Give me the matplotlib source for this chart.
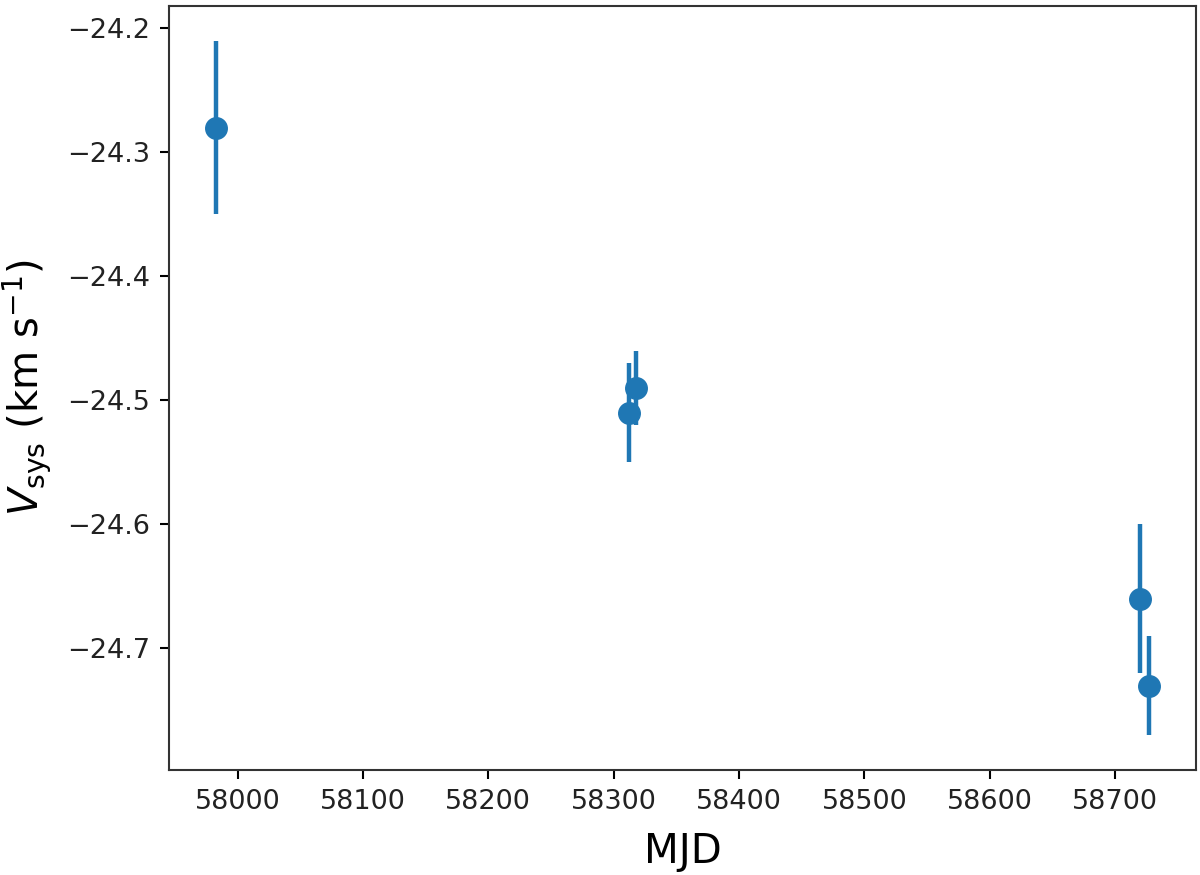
import matplotlib
matplotlib.use("Agg")
import matplotlib.pyplot as plt

# Dados
mjd = [57982.4, 58312.2, 58318.0, 58720.2, 58727.4]
vsys = [-24.28, -24.51, -24.49, -24.66, -24.73]
vsys_err = [0.07, 0.04, 0.03, 0.06, 0.04]

fig = plt.figure(figsize=(12, 8.75), dpi=100)
ax = fig.add_axes([0.1408, 0.12, 0.8559, 0.8731])

ax.errorbar(mjd, vsys, yerr=vsys_err, fmt='o', color='#1f77b4',
            markersize=15.5, elinewidth=3.2, capsize=0)

ax.set_xlabel('MJD', fontsize=29, labelpad=12)
ax.set_ylabel(r'$V_{\rm sys}$ (km s$^{-1}$)', fontsize=29, labelpad=10)
ax.set_xticks([58000, 58100, 58200, 58300, 58400, 58500, 58600, 58700])
ax.set_yticks([-24.2, -24.3, -24.4, -24.5, -24.6, -24.7])

ax.tick_params(labelsize=19.5, length=6.6, width=1.5, pad=7, labelcolor='#222222')
for s in ax.spines.values():
    s.set_linewidth(1.5)
    s.set_color('#333333')

fig.savefig('out.png')
plt.close(fig)
